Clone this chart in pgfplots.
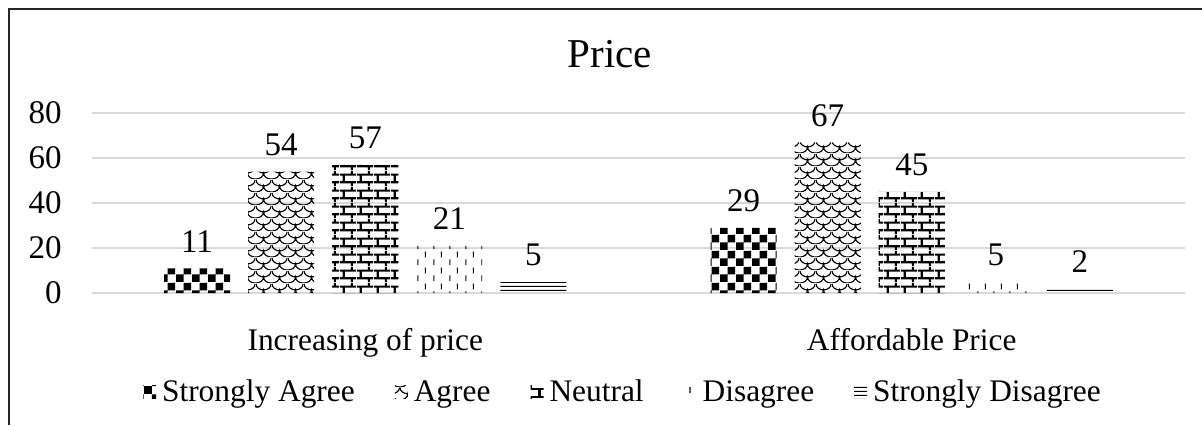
\documentclass[border=0pt]{standalone}
\usepackage{fontspec}
\setmainfont{Liberation Serif}
\usepackage{pgfplots}
\pgfplotsset{compat=1.18}
\usetikzlibrary{patterns}

\pgfdeclarepatternformonly{xcheck}{\pgfqpoint{0pt}{0pt}}{\pgfqpoint{8pt}{8pt}}{\pgfqpoint{8pt}{8pt}}{%
  \pgfpathrectangle{\pgfqpoint{0pt}{0pt}}{\pgfqpoint{4pt}{4pt}}%
  \pgfpathrectangle{\pgfqpoint{4pt}{4pt}}{\pgfqpoint{4pt}{4pt}}%
  \pgfusepath{fill}}

\pgfdeclarepatternformonly{xbricks}{\pgfqpoint{0pt}{0pt}}{\pgfqpoint{8.5pt}{8pt}}{\pgfqpoint{8.5pt}{8pt}}{%
  \pgfsetlinewidth{1.1pt}%
  \pgfpathmoveto{\pgfqpoint{0pt}{2pt}}\pgfpathlineto{\pgfqpoint{8.5pt}{2pt}}%
  \pgfpathmoveto{\pgfqpoint{0pt}{6pt}}\pgfpathlineto{\pgfqpoint{8.5pt}{6pt}}%
  \pgfpathmoveto{\pgfqpoint{2pt}{2pt}}\pgfpathlineto{\pgfqpoint{2pt}{6pt}}%
  \pgfpathmoveto{\pgfqpoint{6.25pt}{6pt}}\pgfpathlineto{\pgfqpoint{6.25pt}{8pt}}%
  \pgfpathmoveto{\pgfqpoint{6.25pt}{0pt}}\pgfpathlineto{\pgfqpoint{6.25pt}{2pt}}%
  \pgfusepath{stroke}}

\pgfdeclarepatternformonly{xdash}{\pgfqpoint{0pt}{0pt}}{\pgfqpoint{8pt}{8pt}}{\pgfqpoint{8pt}{8pt}}{%
  \pgfsetlinewidth{0.6pt}%
  \pgfpathmoveto{\pgfqpoint{1pt}{0.5pt}}\pgfpathlineto{\pgfqpoint{1pt}{3.5pt}}%
  \pgfpathmoveto{\pgfqpoint{5pt}{4.5pt}}\pgfpathlineto{\pgfqpoint{5pt}{7.5pt}}%
  \pgfusepath{stroke}}

\pgfdeclarepatternformonly{xhlines}{\pgfqpoint{0pt}{0pt}}{\pgfqpoint{40pt}{1.75pt}}{\pgfqpoint{40pt}{1.75pt}}{%
  \pgfsetlinewidth{0.6pt}%
  \pgfpathmoveto{\pgfqpoint{-1pt}{0.875pt}}\pgfpathlineto{\pgfqpoint{41pt}{0.875pt}}%
  \pgfusepath{stroke}}

\pgfdeclarepatternformonly{xscales}{\pgfqpoint{0pt}{0pt}}{\pgfqpoint{8pt}{6.5pt}}{\pgfqpoint{8pt}{6.5pt}}{%
  \pgfsetlinewidth{0.6pt}%
  \pgfpathmoveto{\pgfqpoint{0pt}{6.5pt}}%
  \pgfpathcurveto{\pgfqpoint{0pt}{4.5pt}}{\pgfqpoint{2pt}{3.25pt}}{\pgfqpoint{4pt}{3.25pt}}%
  \pgfpathcurveto{\pgfqpoint{6pt}{3.25pt}}{\pgfqpoint{8pt}{4.5pt}}{\pgfqpoint{8pt}{6.5pt}}%
  \pgfpathmoveto{\pgfqpoint{-4pt}{3.25pt}}%
  \pgfpathcurveto{\pgfqpoint{-4pt}{1.25pt}}{\pgfqpoint{-2pt}{0pt}}{\pgfqpoint{0pt}{0pt}}%
  \pgfpathcurveto{\pgfqpoint{2pt}{0pt}}{\pgfqpoint{4pt}{1.25pt}}{\pgfqpoint{4pt}{3.25pt}}%
  \pgfpathcurveto{\pgfqpoint{4pt}{1.25pt}}{\pgfqpoint{6pt}{0pt}}{\pgfqpoint{8pt}{0pt}}%
  \pgfpathcurveto{\pgfqpoint{10pt}{0pt}}{\pgfqpoint{12pt}{1.25pt}}{\pgfqpoint{12pt}{3.25pt}}%
  \pgfusepath{stroke}}

\definecolor{gridgray}{HTML}{D9D9D9}

\begin{document}
\begin{tikzpicture}
\begin{axis}[
  at={(46pt,66pt)}, anchor=south west,
  scale only axis, width=546.5pt, height=90pt,
  xmin=-0.5, xmax=1.5, ymin=0, ymax=80,
  ytick={0,20,40,60,80},
  xtick={0,1},
  xticklabels={Increasing of price, Affordable Price},
  ymajorgrids, grid style={gridgray, line width=0.8pt},
  axis line style={draw=none},
  tick style={draw=none},
  clip=false,
  /pgf/number format/assume math mode=true,
  yticklabel style={font=\fontsize{16.5}{17}\selectfont, anchor=east, inner sep=0pt, xshift=-15pt},
  xticklabel style={font=\fontsize{15.7}{16}\selectfont, anchor=base, inner sep=0pt, yshift=-24.5pt},
  ybar, bar width=0.1209,
  nodes near coords,
  every node near coord/.append style={font=\fontsize{16.5}{17}\selectfont, anchor=base, inner sep=0pt, yshift=8pt},
  legend columns=5,
  legend style={at={(0.4867,-0.553)}, anchor=center, draw=none, fill=none,
    font=\fontsize{15.7}{16}\selectfont,
    /tikz/every odd column/.append style={column sep=1pt},
    /tikz/every even column/.append style={column sep=18pt},
    inner sep=0pt},
  legend image code/.code={\path[#1] (0pt,-3pt) rectangle (6.5pt,3.5pt);},
]
\addplot[draw=none, pattern=xcheck, bar shift=-0.3077] coordinates {(0,11) (1,29)};
\addlegendentry{Strongly Agree}
\addplot[draw=none, pattern=xscales, bar shift=-0.1538] coordinates {(0,54) (1,67)};
\addlegendentry{Agree}
\addplot[draw=none, pattern=xbricks, bar shift=0] coordinates {(0,57) (1,45)};
\addlegendentry{Neutral}
\addplot[draw=none, pattern=xdash, bar shift=0.1538] coordinates {(0,21) (1,5)};
\addlegendentry{Disagree}
\addplot[draw=none, pattern=xhlines, bar shift=0.3077] coordinates {(0,5) (1,2)};
\addlegendentry{Strongly Disagree}
\end{axis}
\node[anchor=base, font=\fontsize{20.5}{22}\selectfont] at (305pt,179pt) {Price};
\draw[line width=1pt, black!85] (4.5pt,0pt) -- (4.5pt,208pt) -- (601pt,208pt);
\pgfresetboundingbox
\useasboundingbox (0pt,0pt) rectangle (601pt,212.5pt);
\end{tikzpicture}
\end{document}
